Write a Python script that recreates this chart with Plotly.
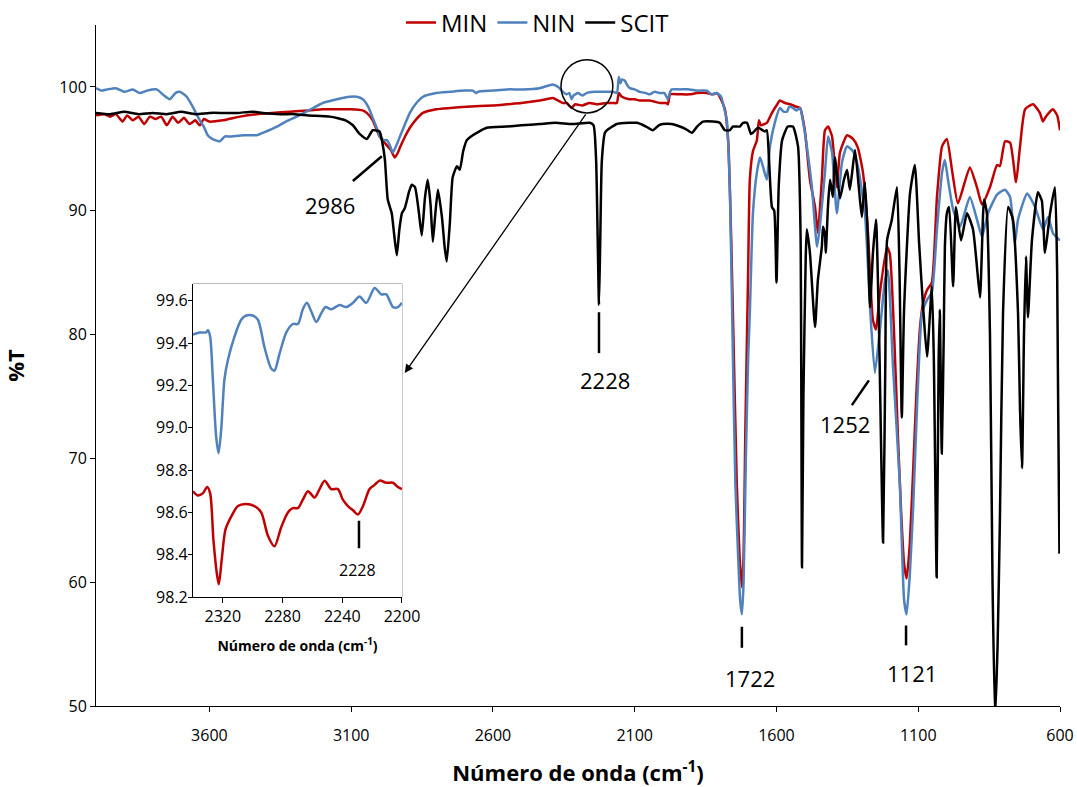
import plotly.graph_objects as go

# ---------------- data ----------------
scit_wn = [4000, 3950, 3900, 3850, 3800, 3750, 3700, 3650, 3600, 3550, 3500, 3450, 3412, 3350, 3300, 3250, 3175, 3120,
           3094, 3070, 3045, 3024, 3000, 2990, 2981, 2971, 2957, 2948, 2939, 2930, 2921, 2911, 2895, 2886, 2875, 2862,
           2851, 2840, 2830, 2820, 2812, 2803, 2794, 2780, 2770, 2763, 2752, 2742, 2727, 2717, 2705, 2692, 2671, 2622,
           2551, 2500, 2435, 2380, 2320, 2258, 2245, 2236, 2230, 2226, 2222, 2216, 2205, 2198, 2163, 2120, 2092, 2060,
           2036, 2015, 2001, 1970, 1941, 1920, 1898, 1880, 1859, 1824, 1800, 1782, 1764, 1754, 1729, 1718, 1704, 1690,
           1683, 1665, 1641, 1634, 1626, 1616, 1608, 1600, 1592, 1580, 1560, 1542, 1524, 1515, 1510, 1505, 1497, 1493,
           1482, 1464, 1454, 1440, 1436, 1429, 1426, 1418, 1411, 1401, 1394, 1376, 1362, 1351, 1341, 1323, 1310, 1299,
           1288, 1278, 1270, 1260, 1249, 1238, 1224, 1216, 1210, 1193, 1175, 1166, 1158, 1150, 1129, 1112, 1097, 1083,
           1069, 1052, 1045, 1035, 1028, 1024, 1017, 1010, 1006, 999, 991, 977, 967, 949, 928, 907, 895, 882, 868, 858,
           847, 838, 829, 820, 812, 801, 783, 766, 748, 741, 734, 727, 720, 713, 699, 678, 664, 653, 635, 618, 610, 602,
           600]
scit_t = [97.9, 97.8, 98.0, 97.8, 97.9, 97.8, 98.0, 97.8, 97.9, 97.9, 97.9, 98.0, 97.9, 97.8, 97.8, 97.7, 97.6, 97.3,
          96.9, 96.2, 95.8, 96.5, 96.4, 95.5, 94.1, 90.9, 89.8, 88.0, 86.4, 88.5, 89.8, 90.2, 91.6, 92.1, 91.9, 90.0,
          88.0, 91.0, 92.5, 90.5, 87.5, 89.8, 91.7, 89.5, 87.0, 85.9, 89.0, 92.7, 93.6, 93.3, 94.8, 95.7, 96.1, 96.7,
          96.8, 96.9, 97.0, 97.1, 97.0, 97.1, 96.9, 94.0, 87.0, 82.4, 87.0, 94.0, 96.3, 96.5, 97.0, 97.1, 97.1, 96.8,
          96.5, 96.9, 97.0, 97.0, 96.8, 96.6, 96.3, 96.8, 97.2, 97.2, 97.1, 96.5, 96.5, 96.8, 96.8, 97.1, 97.1, 96.2,
          96.3, 96.7, 96.4, 96.5, 94.0, 90.3, 90.0, 84.2, 92.0, 95.7, 96.8, 96.8, 95.2, 88.0, 61.2, 75.0, 86.0, 88.5,
          86.6, 80.6, 84.4, 87.1, 88.7, 88.0, 86.6, 90.5, 92.5, 91.1, 94.3, 91.0, 92.5, 93.3, 91.7, 94.9, 92.0, 89.5,
          92.3, 88.0, 82.2, 86.5, 89.3, 80.0, 63.2, 78.0, 87.6, 89.3, 91.9, 85.0, 73.3, 82.0, 91.4, 93.7, 87.4, 82.3,
          78.2, 83.9, 78.0, 60.4, 78.0, 82.0, 70.4, 80.0, 87.1, 89.8, 90.3, 83.9, 90.3, 87.6, 89.8, 88.5, 86.0, 83.0,
          90.9, 89.8, 80.0, 60.0, 49.0, 55.0, 65.0, 81.7, 90.3, 89.3, 81.7, 73.9, 69.2, 80.0, 86.3, 81.4, 87.6, 91.5,
          90.8, 86.6, 89.8, 91.9, 85.0, 62.4, 63.0]

nin_wn = [4000, 3980, 3960, 3930, 3900, 3870, 3846, 3820, 3786, 3760, 3740, 3720, 3705, 3690, 3680, 3659, 3634, 3620,
          3606, 3590, 3564, 3545, 3528, 3480, 3433, 3400, 3362, 3330, 3292, 3250, 3200, 3150, 3105, 3080, 3059, 3040,
          3024, 3010, 2999, 2985, 2974, 2964, 2953, 2940, 2928, 2910, 2893, 2870, 2847, 2800, 2752, 2700, 2671, 2660,
          2653, 2600, 2550, 2495, 2435, 2389, 2370, 2353, 2340, 2330, 2323, 2316, 2300, 2285, 2270, 2240, 2200, 2175,
          2163, 2156, 2150, 2145, 2135, 2125, 2117, 2100, 2082, 2060, 2047, 2030, 2011, 1995, 1983, 1975, 1969, 1940,
          1906, 1880, 1845, 1830, 1810, 1795, 1789, 1775, 1764, 1755, 1745, 1735, 1728, 1722, 1716, 1708, 1700, 1694,
          1683, 1669, 1658, 1648, 1634, 1623, 1606, 1588, 1575, 1563, 1555, 1542, 1530, 1517, 1507, 1493, 1475, 1457,
          1447, 1429, 1418, 1404, 1387, 1369, 1351, 1330, 1313, 1288, 1270, 1253, 1235, 1217, 1207, 1189, 1165, 1150,
          1141, 1130, 1118, 1108, 1098, 1087, 1069, 1052, 1034, 1016, 1006, 995, 977, 953, 918, 893, 875, 854, 822, 794,
          776, 759, 748, 716, 688, 660, 642, 625, 600]
nin_t = [99.9, 99.7, 99.8, 99.9, 99.6, 99.8, 99.5, 99.7, 99.8, 99.3, 99.0, 99.5, 99.6, 99.4, 99.2, 98.4, 97.3, 96.8,
         96.1, 95.8, 95.6, 96.0, 96.0, 96.1, 96.1, 96.4, 96.8, 97.2, 97.6, 98.1, 98.7, 99.0, 99.2, 99.2, 99.0, 98.4,
         97.5, 96.7, 96.0, 95.7, 95.7, 95.3, 94.7, 95.3, 96.0, 97.0, 97.9, 98.7, 99.2, 99.5, 99.6, 99.7, 99.7, 99.5,
         99.6, 99.7, 99.8, 99.8, 99.9, 100.2, 100.0, 99.6, 99.4, 99.5, 99.0, 99.3, 99.5, 99.3, 99.5, 99.6, 99.6, 99.6,
         99.5, 100.8, 100.3, 100.6, 100.5, 100.1, 99.9, 99.8, 99.6, 99.5, 99.4, 99.6, 99.5, 99.5, 99.0, 99.6, 99.8, 99.8,
         99.8, 99.7, 99.7, 99.4, 99.5, 99.2, 98.7, 97.3, 91.4, 80.0, 68.0, 62.0, 58.5, 57.4, 60.0, 70.0, 78.0, 81.7,
         89.8, 93.1, 94.3, 93.6, 92.5, 95.2, 97.1, 98.3, 98.0, 98.0, 98.4, 98.3, 98.1, 98.3, 97.3, 95.2, 91.9, 87.1,
         88.7, 93.1, 96.0, 94.7, 89.8, 93.9, 95.2, 94.8, 93.6, 89.8, 82.2, 76.9, 80.4, 84.4, 85.2, 77.4, 68.0, 58.6,
         57.4, 60.5, 66.0, 72.0, 77.5, 81.7, 82.8, 83.4, 88.5, 93.1, 94.1, 92.5, 90.1, 88.7, 91.1, 89.3, 87.9, 89.8,
         91.3, 91.7, 91.1, 87.4, 89.3, 91.4, 90.3, 88.5, 89.5, 88.2, 87.6]

min_wn = [4000, 3970, 3950, 3930, 3906, 3890, 3870, 3850, 3830, 3810, 3790, 3770, 3750, 3730, 3710, 3690, 3670, 3650,
          3634, 3620, 3600, 3553, 3493, 3433, 3380, 3316, 3250, 3200, 3150, 3100, 3060, 3045, 3024, 3000, 2975, 2960,
          2946, 2935, 2928, 2910, 2893, 2870, 2847, 2800, 2750, 2692, 2600, 2550, 2500, 2435, 2389, 2370, 2353, 2340,
          2323, 2310, 2285, 2260, 2230, 2200, 2175, 2163, 2156, 2145, 2120, 2100, 2082, 2047, 2011, 1990, 1983, 1975,
          1940, 1906, 1880, 1845, 1824, 1810, 1800, 1782, 1770, 1760, 1750, 1740, 1730, 1722, 1716, 1710, 1700, 1694,
          1683, 1669, 1662, 1655, 1634, 1616, 1600, 1588, 1570, 1552, 1530, 1517, 1500, 1482, 1464, 1454, 1440, 1429,
          1418, 1404, 1387, 1376, 1351, 1330, 1313, 1295, 1278, 1260, 1249, 1235, 1210, 1200, 1185, 1172, 1160, 1150,
          1141, 1130, 1118, 1105, 1094, 1083, 1069, 1052, 1034, 1016, 999, 981, 960, 918, 893, 875, 847, 822, 812, 794,
          776, 755, 741, 723, 695, 671, 660, 650, 625, 610, 600]
min_t = [97.7, 97.8, 97.6, 97.8, 97.2, 97.7, 97.3, 97.6, 97.0, 97.6, 97.4, 97.6, 96.9, 97.6, 97.1, 97.5, 97.0, 97.3,
         96.9, 97.4, 97.2, 97.3, 97.6, 97.8, 97.9, 98.0, 98.1, 98.2, 98.2, 98.2, 98.1, 97.9, 97.3, 96.0, 95.3, 94.9,
         94.3, 94.7, 95.1, 96.0, 96.7, 97.4, 97.9, 98.2, 98.3, 98.4, 98.5, 98.6, 98.7, 98.9, 99.1, 98.9, 98.7, 98.7,
         98.3, 98.6, 98.5, 98.7, 98.6, 98.7, 98.7, 98.7, 99.5, 99.2, 99.0, 99.0, 98.9, 98.9, 98.7, 98.7, 98.6, 99.4,
         99.4, 99.4, 99.5, 99.5, 99.4, 99.5, 99.2, 98.2, 95.5, 88.0, 78.0, 68.0, 62.0, 59.6, 62.0, 72.0, 85.0, 92.5,
         94.8, 95.7, 97.3, 96.9, 97.1, 97.9, 98.5, 98.9, 98.7, 98.6, 98.4, 98.3, 96.5, 92.5, 90.3, 88.2, 92.5, 96.5,
         96.8, 96.0, 91.9, 94.7, 96.1, 95.8, 95.1, 93.1, 88.5, 81.2, 80.4, 83.4, 87.1, 86.5, 80.0, 72.0, 65.5, 61.5,
         60.3, 63.0, 69.0, 76.0, 80.5, 82.5, 83.6, 84.2, 91.1, 95.2, 95.8, 93.3, 90.6, 93.5, 91.9, 90.5, 91.9, 93.7, 93.6,
         95.6, 95.5, 92.3, 95.2, 98.2, 98.6, 97.9, 97.2, 97.6, 98.2, 97.7, 96.5]

# inset (zoom 2340-2200 cm-1)
inset_nin_wn = [2340, 2335.6, 2331.2, 2330, 2328.5, 2326.7, 2324.5, 2322.9, 2321.1, 2318.9, 2316.6, 2312.2, 2307.7,
                2304.4, 2299.9, 2296.5, 2292.1, 2287.6, 2285.4, 2282.0, 2277.5, 2273.1, 2269.7, 2266.4, 2263.7, 2260.8,
                2257.4, 2254.1, 2251.2, 2247.4, 2241.8, 2237.3, 2232.8, 2228.4, 2223.9, 2218.3, 2213.9, 2210.5, 2206.0,
                2202.7, 2200]
inset_nin_t = [99.44, 99.45, 99.45, 99.46, 99.43, 99.23, 98.96, 98.88, 98.99, 99.23, 99.32, 99.43, 99.51, 99.53, 99.53,
               99.51, 99.38, 99.28, 99.27, 99.35, 99.45, 99.49, 99.49, 99.56, 99.59, 99.55, 99.50, 99.54, 99.57, 99.56,
               99.58, 99.57, 99.59, 99.62, 99.59, 99.66, 99.63, 99.63, 99.57, 99.57, 99.59]
inset_min_wn = [2340, 2336.8, 2333.4, 2330.5, 2328.5, 2326.3, 2324.0, 2322.7, 2320.7, 2318.2, 2314.4, 2309.9, 2304.8,
                2298.8, 2294.3, 2289.8, 2285.4, 2280.9, 2276.4, 2273.1, 2269.7, 2266.4, 2263.0, 2258.5, 2255.2, 2251.8,
                2247.4, 2242.9, 2239.6, 2236.2, 2232.8, 2229.5, 2226.1, 2221.7, 2218.3, 2215.0, 2210.5, 2206.0, 2202.7,
                2200]
inset_min_t = [98.70, 98.68, 98.69, 98.72, 98.69, 98.47, 98.31, 98.26, 98.38, 98.52, 98.58, 98.63, 98.64, 98.63, 98.60,
               98.49, 98.44, 98.53, 98.60, 98.62, 98.62, 98.66, 98.70, 98.67, 98.71, 98.75, 98.71, 98.71, 98.66, 98.63,
               98.61, 98.59, 98.63, 98.71, 98.73, 98.75, 98.74, 98.74, 98.72, 98.71]

main_xticks = [3600, 3100, 2600, 2100, 1600, 1100, 600]
main_yticks = [50, 60, 70, 80, 90, 100]
inset_xticks = [2320, 2280, 2240, 2200]
inset_yticks = [98.2, 98.4, 98.6, 98.8, 99.0, 99.2, 99.4, 99.6]

# peak labels: (text, text_x, text_y, line x0, y0, x1, y1)
peak_labels = [
    ("2986", 3175, 90.5, 3094, 92.4, 2992, 94.4),
    ("2228", 2205, 76.3, 2226, 81.8, 2226, 78.5),
    ("1722", 1694, 52.3, 1722, 56.4, 1722, 54.7),
    ("1121", 1122, 52.7, 1143, 56.5, 1143, 54.9),
    ("1252", 1359, 72.8, 1334, 74.3, 1274, 76.3),
]

# ---------------- figure ----------------
RED = "#C00000"
BLUE = "#4F81BD"
BLACK = "#000000"
FONT = "Open Sans"

fig = go.Figure()
for name, xs, ys, col in [("MIN", min_wn, min_t, RED), ("NIN", nin_wn, nin_t, BLUE), ("SCIT", scit_wn, scit_t, BLACK)]:
    fig.add_trace(go.Scatter(x=xs, y=ys, mode="lines", name=name,
                             line=dict(color=col, width=2.5, shape="spline", smoothing=0.5),
                             xaxis="x", yaxis="y"))

fig.add_trace(go.Scatter(x=inset_nin_wn, y=inset_nin_t, mode="lines", showlegend=False,
                         line=dict(color=BLUE, width=2.5, shape="spline", smoothing=0.8), xaxis="x2", yaxis="y2"))
fig.add_trace(go.Scatter(x=inset_min_wn, y=inset_min_t, mode="lines", showlegend=False,
                         line=dict(color=RED, width=2.5, shape="spline", smoothing=0.8), xaxis="x2", yaxis="y2"))

shapes = []
annotations = []
for txt, tx, ty, x0, y0, x1, y1 in peak_labels:
    shapes.append(dict(type="line", xref="x", yref="y", x0=x0, y0=y0, x1=x1, y1=y1,
                       line=dict(color=BLACK, width=2.5)))
    annotations.append(dict(text=txt, x=tx, y=ty, xref="x", yref="y", showarrow=False,
                            font=dict(family=FONT, size=22, color=BLACK)))

# inset 2228 label
shapes.append(dict(type="line", xref="x2", yref="y2", x0=2228.8, y0=98.56, x1=2228.8, y1=98.43,
                   line=dict(color=BLACK, width=2.5)))
annotations.append(dict(text="2228", x=2229.5, y=98.33, xref="x2", yref="y2", showarrow=False,
                        font=dict(family=FONT, size=16, color=BLACK)))

# circle around the zoomed region
shapes.append(dict(type="circle", xref="x", yref="y", x0=2360, x1=2177, y0=97.9, y1=102.2,
                   line=dict(color=BLACK, width=1.5)))
# inset frame
shapes.append(dict(type="rect", xref="x2 domain", yref="y2 domain", x0=0, x1=1, y0=0, y1=1,
                   line=dict(color="#8C8C8C", width=1), layer="below"))
# arrow from circle to inset
annotations.append(dict(x=2911, y=76.9, ax=2269, ay=97.9, xref="x", yref="y", axref="x", ayref="y",
                        text="", showarrow=True, arrowhead=2, arrowsize=1.3, arrowwidth=1.3, arrowcolor=BLACK))

fig.update_layout(
    width=1077, height=787,
    margin=dict(l=96, r=17, t=25, b=81, autoexpand=False),
    paper_bgcolor="white", plot_bgcolor="white",
    font=dict(family=FONT, color=BLACK),
    showlegend=True,
    legend=dict(orientation="h", x=0.458, xanchor="center", y=1.003, yanchor="middle",
                font=dict(family=FONT, size=24, color=BLACK), bgcolor="rgba(0,0,0,0)",
                itemwidth=30, tracegroupgap=0),
    xaxis=dict(range=[4000, 600], tickvals=main_xticks, ticks="outside", ticklen=5, tickcolor=BLACK,
               showline=True, linecolor=BLACK, linewidth=1, showgrid=False, zeroline=False, automargin=False,
               ticklabelstandoff=10,
               tickfont=dict(family=FONT, size=16, color=BLACK),
               title=dict(text="<b>Número de onda (cm<sup>-1</sup>)</b>", standoff=22,
                          font=dict(family=FONT, size=22, color=BLACK))),
    yaxis=dict(range=[50, 105], tickvals=main_yticks, ticks="outside", ticklen=5, tickcolor=BLACK,
               showline=True, linecolor=BLACK, linewidth=1, showgrid=False, zeroline=False, automargin=False,
               tickfont=dict(family=FONT, size=16, color=BLACK),
               title=dict(text="<b>%T</b>", standoff=31, font=dict(family=FONT, size=22, color=BLACK))),
    xaxis2=dict(domain=[0.1006, 0.3174], anchor="y2", range=[2340, 2200], tickvals=inset_xticks,
                ticks="outside", ticklen=5, tickcolor=BLACK, showline=True, linecolor=BLACK, linewidth=1,
                showgrid=False, zeroline=False, automargin=False, tickfont=dict(family=FONT, size=16, color=BLACK),
                title=dict(text="<b>Número de onda (cm<sup>-1</sup>)</b>", standoff=14,
                           font=dict(family=FONT, size=14, color=BLACK))),
    yaxis2=dict(domain=[0.160, 0.620], anchor="x2", range=[98.2, 99.68], tickvals=inset_yticks,
                tickformat=".1f", ticks="outside", ticklen=4, tickcolor=BLACK, showline=True,
                linecolor=BLACK, linewidth=1, showgrid=False, zeroline=False, automargin=False,
                ticklabelstandoff=-3,
                tickfont=dict(family=FONT, size=16, color=BLACK)),
    shapes=shapes,
    annotations=annotations,
)

# remove the page's default 8 px body margin so the figure fills the window exactly
fig.write_html("out.html", config={"displayModeBar": False},
               post_script="document.body.style.margin='0px';")
